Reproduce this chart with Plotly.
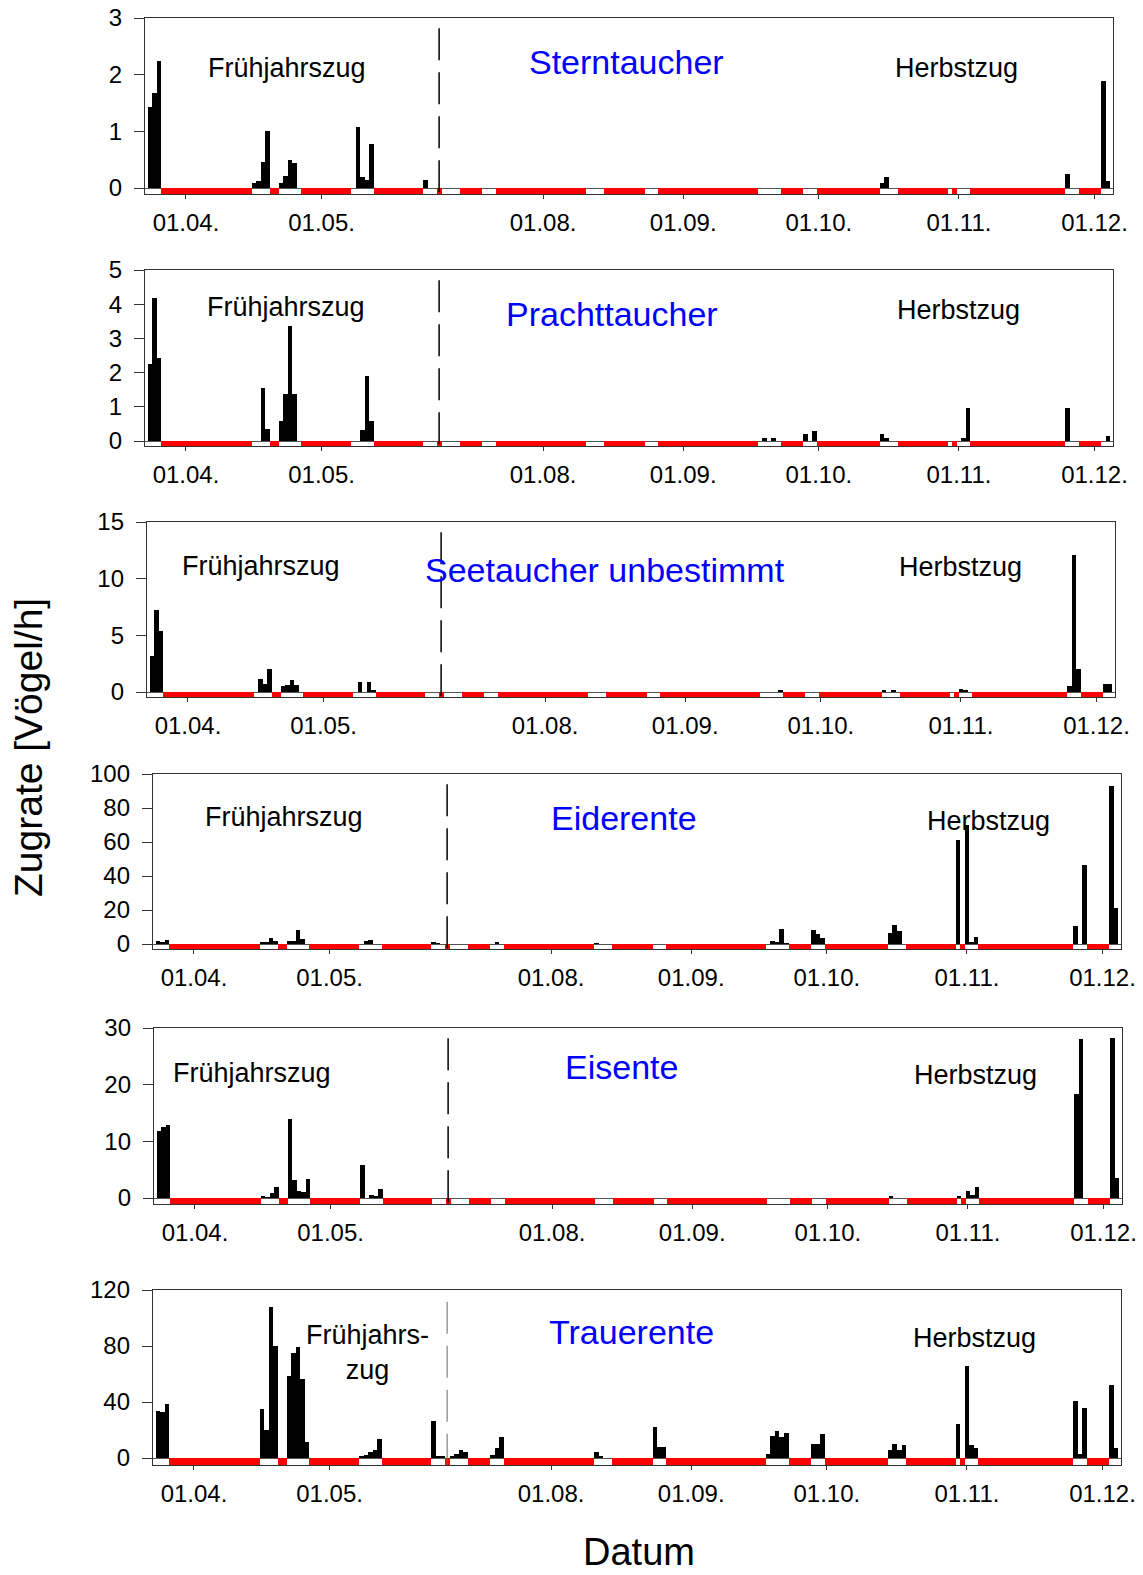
import plotly.graph_objects as go
from datetime import date

# ---------------------------------------------------------------------------
# Data: daily migration rates (birds per hour) per species
# ---------------------------------------------------------------------------
TICK_DATES = ["01.04.", "01.05.", "01.08.", "01.09.", "01.10.", "01.11.", "01.12."]

# Days on which counts were made (white in the strip below the axis)
OBS_PERIODS = [
    ("23.03.", "26.03."), ("16.04.", "19.04."), ("22.04.", "26.04."),
    ("08.05.", "12.05."), ("24.05.", "26.05."), ("10.07.", "13.07."),
    ("19.07.", "21.07."), ("11.08.", "14.08."), ("24.08.", "26.08."),
    ("18.09.", "22.09."), ("28.09.", "30.09."), ("15.10.", "18.10."),
    ("30.10.", "30.10."), ("01.11.", "03.11."), ("25.11.", "27.11."),
    ("03.12.", "05.12."),
]

STERN_DATES = ["24.03.", "25.03.", "26.03.", "16.04.", "17.04.", "18.04.", "19.04.",
               "22.04.", "23.04.", "24.04.", "25.04.", "09.05.", "10.05.", "11.05.",
               "12.05.", "24.05.", "15.10.", "16.10.", "25.11.", "03.12.", "04.12."]
STERN_RATE = [1.43, 1.67, 2.25, 0.09, 0.12, 0.46, 1.0,
              0.08, 0.22, 0.5, 0.44, 1.07, 0.2, 0.14,
              0.77, 0.14, 0.09, 0.19, 0.25, 1.88, 0.13]

PRACHT_DATES = ["24.03.", "25.03.", "26.03.", "18.04.", "19.04.", "22.04.", "23.04.",
                "24.04.", "25.04.", "10.05.", "11.05.", "12.05.", "19.09.", "21.09.",
                "28.09.", "30.09.", "15.10.", "16.10.", "02.11.", "03.11.", "25.11.",
                "04.12."]
PRACHT_RATE = [2.25, 4.17, 2.44, 1.56, 0.35, 0.58, 1.37,
               3.37, 1.37, 0.32, 1.9, 0.58, 0.1, 0.1,
               0.2, 0.3, 0.2, 0.1, 0.1, 0.97, 0.97,
               0.15]

SEETAUCHER_DATES = ["24.03.", "25.03.", "26.03.", "17.04.", "18.04.", "19.04.", "22.04.",
                    "23.04.", "24.04.", "25.04.", "09.05.", "11.05.", "12.05.", "22.09.",
                    "15.10.", "17.10.", "01.11.", "02.11.", "25.11.", "26.11.", "27.11.",
                    "03.12.", "04.12."]
SEETAUCHER_RATE = [3.15, 7.2, 5.4, 1.15, 0.74, 2.03, 0.5,
                   0.59, 1.03, 0.62, 0.85, 0.85, 0.2, 0.15,
                   0.2, 0.12, 0.24, 0.12, 0.5, 12.06, 2.03,
                   0.68, 0.68]

EIDER_DATES = ["24.03.", "25.03.", "26.03.", "16.04.", "17.04.", "18.04.", "19.04.",
               "22.04.", "23.04.", "24.04.", "25.04.", "09.05.", "10.05.", "24.05.",
               "25.05.", "20.07.", "11.08.", "19.09.", "20.09.", "21.09.", "22.09.",
               "28.09.", "29.09.", "30.09.", "15.10.", "16.10.", "17.10.", "30.10.",
               "01.11.", "02.11.", "03.11.", "25.11.", "27.11.", "03.12.", "04.12."]
EIDER_RATE = [1.8, 1.0, 2.2, 1.0, 1.0, 3.7, 2.0,
              1.6, 1.6, 8.0, 2.75, 2.0, 2.4, 0.8,
              0.4, 0.6, 0.5, 2.0, 1.0, 9.0, 0.4,
              8.0, 5.9, 3.3, 6.7, 11.2, 7.9, 61.0,
              70.0, 1.4, 3.9, 10.6, 46.4, 93.0, 21.2]

EIS_DATES = ["24.03.", "25.03.", "26.03.", "16.04.", "17.04.", "18.04.", "19.04.",
             "22.04.", "23.04.", "24.04.", "25.04.", "26.04.", "08.05.", "10.05.",
             "11.05.", "12.05.", "15.10.", "30.10.", "01.11.", "02.11.", "03.11.",
             "25.11.", "26.11.", "03.12.", "04.12."]
EIS_RATE = [11.9, 12.5, 12.9, 0.2, 0.1, 0.9, 1.9,
            14.0, 3.1, 1.2, 1.0, 3.4, 5.8, 0.6,
            0.2, 1.6, 0.2, 0.3, 1.3, 0.6, 1.9,
            18.4, 28.1, 28.2, 3.6]

TRAUER_DATES = ["24.03.", "25.03.", "26.03.", "16.04.", "17.04.", "18.04.", "19.04.",
                "22.04.", "23.04.", "24.04.", "25.04.", "26.04.", "08.05.", "09.05.",
                "10.05.", "11.05.", "12.05.", "24.05.", "25.05.", "26.05.", "10.07.",
                "11.07.", "12.07.", "13.07.", "19.07.", "20.07.", "21.07.", "11.08.",
                "12.08.", "24.08.", "25.08.", "26.08.", "18.09.", "19.09.", "20.09.",
                "21.09.", "22.09.", "28.09.", "29.09.", "30.09.", "15.10.", "16.10.",
                "17.10.", "18.10.", "30.10.", "01.11.", "02.11.", "03.11.", "25.11.",
                "26.11.", "27.11.", "03.12.", "04.12."]
TRAUER_RATE = [33.7, 32.8, 38.7, 34.9, 19.7, 107.6, 80.3,
               58.7, 74.8, 79.1, 56.5, 11.4, 1.2, 2.4,
               4.5, 5.9, 13.5, 26.1, 1.2, 1.4, 1.2,
               2.9, 5.9, 4.0, 2.0, 7.0, 15.0, 4.0,
               1.0, 22.0, 8.0, 8.0, 3.0, 16.0, 19.0,
               15.0, 18.0, 10.0, 10.0, 17.0, 6.0, 10.0,
               6.0, 9.0, 24.0, 66.0, 9.0, 7.0, 41.0,
               3.0, 36.0, 52.0, 7.0]

SPECIES = ["Sterntaucher", "Prachttaucher", "Seetaucher unbestimmt",
           "Eiderente", "Eisente", "Trauerente"]
SERIES = [(STERN_DATES, STERN_RATE), (PRACHT_DATES, PRACHT_RATE),
          (SEETAUCHER_DATES, SEETAUCHER_RATE), (EIDER_DATES, EIDER_RATE),
          (EIS_DATES, EIS_RATE), (TRAUER_DATES, TRAUER_RATE)]
Y_MAX = [3, 5, 15, 100, 30, 120]
Y_STEP = [1, 1, 5, 20, 10, 40]

# ---------------------------------------------------------------------------
# Date axis with the summer break (27.05. - 09.07.) cut out
# ---------------------------------------------------------------------------
YEAR = 2003
ORIGIN = "01.04."
GAP_FROM, GAP_TO = "27.05.", "09.07."


def ordinal(s):
    return date(YEAR, int(s[3:5]), int(s[0:2])).toordinal()


def pos(s):
    off = ordinal(s) - ordinal(ORIGIN)
    g0 = ordinal(GAP_FROM) - ordinal(ORIGIN)
    g1 = ordinal(GAP_TO) - ordinal(ORIGIN)
    if off <= g0:
        return off
    if off >= g1:
        return off - (g1 - g0)
    return g0


X_MIN, X_MAX = -9.1, 205.1
observed = set()
for a, b in OBS_PERIODS:
    observed.update(range(pos(a), pos(b) + 1))
unobserved = [d for d in range(-10, 207) if d not in observed]

# ---------------------------------------------------------------------------
# Page geometry (pixels)
# ---------------------------------------------------------------------------
W, H = 1143, 1575
PX_PER_DAY = 4.52
APRIL_X = [186, 186, 188, 194, 195, 194]          # pixel of 01.04. per panel
PANEL_Y = [(18, 188, 194), (270, 441, 446), (522, 692, 697),
           (774, 944, 949), (1028, 1198, 1204), (1290, 1458, 1465)]

FONT = "Arial, Liberation Sans, sans-serif"
LINE = "#333333"

fig = go.Figure()
layout = dict(
    width=W, height=H, margin=dict(l=0, r=0, t=0, b=0, pad=0), autosize=False,
    paper_bgcolor="white", plot_bgcolor="white",
    showlegend=False, barmode="overlay", bargap=0,
    font=dict(family=FONT, color="black"),
)
shapes = []

for i in range(6):
    n = "" if i == 0 else str(i + 1)
    xa, ya = "x" + n, "y" + n
    top, zero, bottom = PANEL_Y[i]
    ymax = Y_MAX[i]
    strip = (bottom - zero) / (zero - top) * ymax

    # unobserved days: red strip under the axis
    fig.add_trace(go.Bar(
        x=unobserved, y=[strip] * len(unobserved), base=-strip, width=1,
        marker=dict(color="#ff0000", line=dict(width=0)),
        xaxis=xa, yaxis=ya, hoverinfo="skip"))

    dates, rates = SERIES[i]
    fig.add_trace(go.Bar(
        x=[pos(d) for d in dates], y=rates, width=1,
        marker=dict(color="black", line=dict(width=0)),
        xaxis=xa, yaxis=ya, name=SPECIES[i]))

    x0 = APRIL_X[i] + X_MIN * PX_PER_DAY
    x1 = APRIL_X[i] + X_MAX * PX_PER_DAY
    layout["xaxis" + n] = dict(
        domain=[x0 / W, x1 / W], range=[X_MIN, X_MAX], anchor=ya,
        automargin=False,
        tickvals=[pos(t) for t in TICK_DATES], ticktext=TICK_DATES,
        ticks="outside", ticklen=4, tickcolor=LINE, tickwidth=1,
        showline=True, mirror=True, linecolor=LINE, linewidth=1,
        showgrid=False, zeroline=False, ticklabelstandoff=3,
        tickfont=dict(size=24, family=FONT, color="black"), fixedrange=True)
    layout["yaxis" + n] = dict(
        domain=[1 - bottom / H, 1 - top / H], range=[-strip, ymax], anchor=xa,
        automargin=False,
        tickvals=list(range(0, ymax + 1, Y_STEP[i])),
        ticks="outside", ticklen=10, tickcolor=LINE, tickwidth=1,
        showline=True, mirror=True, linecolor=LINE, linewidth=1,
        showgrid=False, zeroline=True, zerolinecolor="#555555", zerolinewidth=1,
        ticklabelstandoff=7,
        tickfont=dict(size=24, family=FONT, color="black"), fixedrange=True)

    # break between spring and autumn season
    last = i == 5
    shapes.append(dict(
        type="line", xref=xa, yref=ya,
        x0=pos(GAP_FROM), x1=pos(GAP_FROM),
        y0=ymax * (0.93 if last else 0.94), y1=-strip,
        line=dict(color="#666666" if last else "black",
                  width=1 if last else 1.5, dash="32px,12px")))

layout["shapes"] = shapes

# ---------------------------------------------------------------------------
# Labels
# ---------------------------------------------------------------------------
SPRING = ["Frühjahrszug"] * 5 + ["Frühjahrs-<br>zug"]
SPRING_XY = [(287, 68), (286, 307), (261, 566), (284, 817), (252, 1073), (367, 1352)]
NAME_XY = [(626, 62), (612, 314), (605, 570), (624, 818), (622, 1067), (631, 1332)]
AUTUMN_XY = [(956, 68), (958, 310), (960, 567), (988, 821), (975, 1075), (974, 1338)]

ann = []


def label(text, xy, size, color="black", angle=0, yanchor="middle"):
    ann.append(dict(
        text=text, x=xy[0] / W, y=1 - xy[1] / H, xref="paper", yref="paper",
        xanchor="center", yanchor=yanchor, showarrow=False, textangle=angle,
        font=dict(size=size, color=color, family=FONT)))


for i in range(6):
    label(SPRING[i], SPRING_XY[i], 27)
    label(SPECIES[i], NAME_XY[i], 34, color="#0000ff")
    label("Herbstzug", AUTUMN_XY[i], 27)

label("Zugrate [Vögel/h]", (28, 748), 39, angle=-90)
label("Datum", (639, H), 38, yanchor="bottom")

layout["annotations"] = ann
fig.update_layout(**layout)
fig.write_html("out.html")
